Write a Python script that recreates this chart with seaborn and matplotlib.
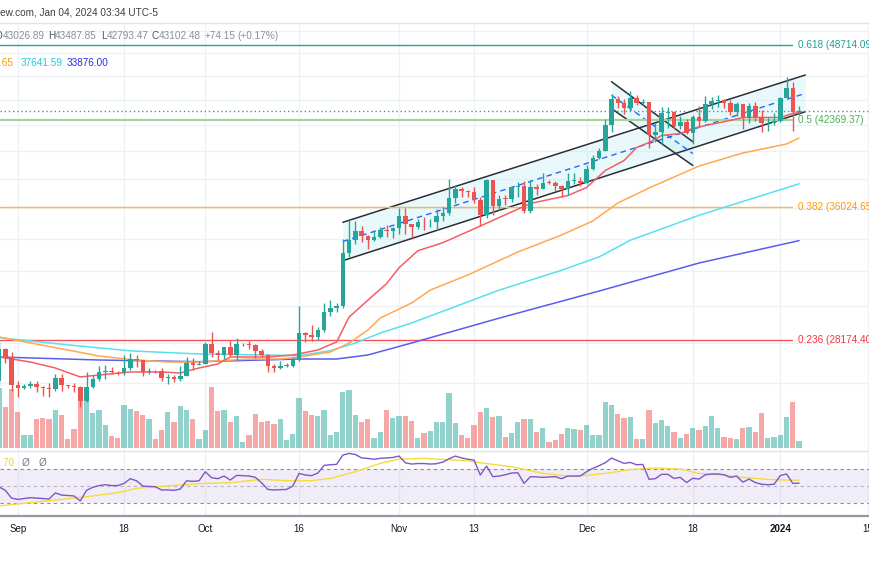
import numpy as np
import pandas as pd
import matplotlib
matplotlib.use("Agg")
import matplotlib.pyplot as plt
from matplotlib.lines import Line2D
from matplotlib.ticker import NullLocator
from matplotlib.transforms import blended_transform_factory
import seaborn as sns

# ---------------------------------------------------------------- data
start_date = "2023-08-29"   # first daily candle (partly visible at left edge)

opens = ([26100, 27727, 27298] +
         [25932, 25800, 25869, 25970, 25812, 25779, 25753, 26240, 25905, 25895,
          25832, 25162, 25840, 26228, 26539, 26608, 26568, 26534, 26754, 27211,
          27132, 26567, 26580, 26579, 26256, 26299, 26217, 26352, 27021, 26911] +
         [26967, 27983, 27530, 27429, 27799, 27415, 27946, 27968, 27935, 27583,
          27391, 26873, 26756, 26862, 26870, 27159, 28519, 28415, 28328, 28719,
          29682, 29918, 29993, 33086, 33901, 34502, 34156, 33909, 34090, 34538, 34502] +
         [34667, 35437, 34938, 34732, 35082, 35049, 35060, 35443, 35655, 36693,
          37313, 37138, 37054, 36502, 35537, 37880, 36154, 36596, 36585, 37386,
          37476, 35813, 37432, 37289, 37720, 37700, 37479, 37254, 37831, 37858] +
         [37712, 38688, 39476, 39978, 41980, 44080, 43746, 43293, 44166, 43725,
          43779, 41243, 41450, 42890, 43023, 41929, 42240, 41364, 42623, 42270,
          43652, 43869, 43997, 43740, 43016, 43613, 42520, 43442, 42627, 42099, 42156] +
         [42265, 44167, 44957, 43026.89])

highs = ([28142, 27760, 27570] +
         [26125, 25970, 26100, 26100, 25877, 26020, 26445, 26435, 25945, 26030,
          25880, 26567, 26400, 26860, 26888, 26777, 26619, 27409, 27488, 27387,
          27160, 26743, 26640, 26739, 26432, 26389, 26834, 27308, 27244, 27094] +
         [28065, 28580, 27665, 27830, 28120, 28295, 28022, 28100, 27988, 27735,
          27477, 26947, 27100, 26990, 27290, 30000, 28612, 28985, 28890, 30200,
          30350, 30200, 34000, 35198, 35133, 34832, 34238, 34479, 34750, 34856, 34719] +
         [35985, 35984, 34945, 35275, 35380, 35290, 35890, 36080, 37973, 37526,
          37400, 37227, 37420, 36760, 37980, 37930, 36880, 36845, 37500, 37750,
          37856, 37888, 37654, 38420, 37892, 37820, 37590, 38383, 38427, 38150] +
         [38960, 39676, 40200, 42420, 44490, 44300, 44040, 44700, 44370, 44035,
          43810, 42104, 43430, 43400, 43080, 42700, 42430, 42757, 43497, 44283,
          44230, 44400, 44015, 43946, 43800, 43650, 43683, 43804, 43124, 42612, 42899] +
         [44184, 45900, 45500, 43487.85])

lows = ([25914, 27025, 25655] +
        [25333, 25718, 25768, 25600, 25389, 25350, 25615, 25647, 25800, 25571,
         24901, 25134, 25770, 26126, 26224, 26474, 26399, 26386, 26677, 26800,
         26361, 26467, 26500, 26122, 25990, 26090, 26111, 26342, 26665, 26884] +
        [26954, 27282, 27160, 27215, 27365, 27175, 27858, 27690, 27260, 27300,
         26538, 26555, 26685, 26815, 26800, 27112, 28069, 28140, 28170, 28600,
         29470, 29675, 29884, 32880, 33690, 33762, 33339, 33874, 34046, 34076, 34070] +
        [34320, 34300, 34097, 34585, 34523, 34750, 34520, 35121, 35535, 36325,
         36709, 36744, 36342, 34800, 35360, 35500, 35880, 36180, 36390, 36712,
         35632, 35688, 36870, 37250, 37600, 37150, 36750, 36870, 37594, 37500] +
        [37600, 38631, 39389, 39978, 41415, 43335, 42821, 43082, 43584, 43565,
         40222, 40680, 40555, 41767, 41666, 41700, 41250, 40530, 41800, 42180,
         43270, 43400, 43300, 42750, 42720, 41650, 42167, 42318, 41424, 41520, 41965] +
        [42180, 44150, 41500, 42793.47])

closes = ([27727, 27298, 25932] +
          [25800, 25869, 25970, 25812, 25779, 25753, 26240, 25905, 25895, 25832,
           25162, 25840, 26228, 26539, 26608, 26568, 26534, 26754, 27211, 27132,
           26567, 26580, 26579, 26256, 26299, 26217, 26352, 27021, 26911, 26967] +
          [27983, 27530, 27429, 27799, 27415, 27946, 27968, 27935, 27583, 27391,
           26873, 26756, 26862, 26870, 27159, 28519, 28415, 28328, 28719, 29682,
           29918, 29993, 33086, 33901, 34502, 34156, 33909, 34090, 34538, 34502, 34667] +
          [35437, 34938, 34732, 35082, 35049, 35060, 35443, 35655, 36693, 37313,
           37138, 37054, 36502, 35537, 37880, 36154, 36596, 36585, 37386, 37476,
           35813, 37432, 37289, 37720, 37700, 37479, 37254, 37831, 37858, 37712] +
          [38688, 39476, 39978, 41980, 44080, 43746, 43293, 44166, 43725, 43779,
           41243, 41450, 42890, 43023, 41929, 42240, 41364, 42623, 42270, 43652,
           43869, 43997, 43740, 43016, 43613, 42520, 43442, 42627, 42099, 42156, 42265] +
          [44167, 44957, 43028.33, 43102.48])

# volume, thousands of BTC
volumes = ([60, 41.7, 59] +
           [36.7, 13.3, 13.3, 29.3, 30.3, 29.3, 38, 33.3, 9.7, 19.3,
            56, 55, 35, 38.3, 23, 12, 10, 43, 39.3, 37.7,
            33, 29, 9.7, 18.3, 36.3, 26.7, 42.7, 38, 29.3, 9] +
           [18.3, 61.6, 37.3, 38, 26.3, 32, 6.7, 13.3, 34, 26.7,
            27.3, 24.3, 29.3, 8.3, 14.3, 50.3, 37, 33.3, 32.3, 38.3,
            13.3, 16, 56, 58, 33, 26.7, 29, 10.3, 16.7, 38.3, 30.3] +
           [32.7, 32.3, 27.3, 10, 15, 17.3, 26.7, 26.7, 55, 25,
            13.3, 10.7, 23, 36.7, 40.7, 31.7, 32.7, 11, 15.3, 26.7,
            29.3, 29, 16.3, 20.3, 6, 8.3, 14, 20.7, 19, 18] +
           [23, 13, 13, 46.3, 43.3, 34.3, 30, 31.7, 9.3, 9,
            38.3, 25, 28, 22, 16.3, 10, 14.7, 20, 18.3, 22,
            32, 20.7, 11.3, 10.7, 9.7, 20.3, 21.3, 16, 35.3, 10.3, 11] +
           [13, 31.7, 46.7, 7])

rsi = ([49, 45, 36] +
       [34.5, 35.5, 36.5, 36, 35.5, 35, 42, 39.5, 39, 38.5,
        32.7, 45, 48.5, 50.5, 51.5, 50.5, 50.5, 53, 58.5, 56,
        50, 49.5, 49.2, 45.4, 45.5, 45, 46.5, 56, 55.4, 56] +
       [66.5, 59.6, 58.5, 61.5, 56.9, 62.3, 62, 61.5, 60, 53.8,
        46, 45.4, 45.8, 46, 50, 64.6, 62.7, 62, 65, 73.8,
        74.6, 75, 85.8, 87.7, 86.5, 82.5, 81.9, 81, 82, 82.5, 83] +
       [84.6, 76.9, 75.4, 76, 76, 75.4, 75.8, 77.7, 81.5, 84.6,
        82.5, 81, 80, 62.7, 73, 60.8, 61.5, 63, 65, 65.4,
        53, 60.8, 60.5, 60, 60.5, 60.8, 58.5, 61.5, 61.5, 61.5] +
       [66.5, 70.4, 73.5, 77, 82.3, 79.2, 76.2, 77.3, 74.6, 75,
        57.7, 58.5, 63.5, 63.5, 58.8, 60, 54, 59, 58, 63,
        63.8, 64, 63, 60, 61.5, 54.5, 58, 54, 52, 51.5, 52] +
       [62, 64, 53, 53.3])

# moving averages read at sample dates
ma20_dates = ["2023-08-29", "2023-09-03", "2023-09-07", "2023-09-11", "2023-09-14",
              "2023-09-19", "2023-09-24", "2023-09-27", "2023-09-30", "2023-10-03",
              "2023-10-05", "2023-10-11", "2023-10-15", "2023-10-19", "2023-10-22",
              "2023-10-24", "2023-10-27", "2023-10-30", "2023-11-01", "2023-11-04",
              "2023-11-08", "2023-11-12", "2023-11-17", "2023-11-22", "2023-11-28",
              "2023-12-01", "2023-12-04", "2023-12-07", "2023-12-09", "2023-12-11",
              "2023-12-13", "2023-12-16", "2023-12-18", "2023-12-20", "2023-12-24",
              "2023-12-26", "2023-12-29", "2024-01-01", "2024-01-03", "2024-01-04"]
ma20_vals = [27303, 27051, 26752, 26310, 26407, 26555, 26555, 26506, 26752, 26951,
             27303, 27303, 27404, 27659, 28072, 29397, 30332, 31279, 32219, 33248,
             33747, 34448, 35355, 36290, 36833, 37382, 38580, 39300, 40260, 40635,
             41165, 41318, 41706, 41939, 42330, 42566, 42566, 42566, 42882, 42962]

ma50_dates = ["2023-08-29", "2023-09-09", "2023-09-14", "2023-09-19", "2023-09-25",
              "2023-09-30", "2023-10-08", "2023-10-13", "2023-10-16", "2023-10-21",
              "2023-10-24", "2023-10-27", "2023-10-29", "2023-11-03", "2023-11-06",
              "2023-11-12", "2023-11-20", "2023-11-27", "2023-12-02", "2023-12-06",
              "2023-12-11", "2023-12-19", "2023-12-26", "2024-01-02", "2024-01-04"]
ma50_vals = [28335, 27659, 27353, 27176, 27051, 27051, 27201, 27201, 27303, 27557,
             28020, 28700, 29350, 30176, 30912, 31785, 33171, 34232, 35132, 36325,
             37348, 38903, 39852, 40523, 40976.65]

ma100_dates = ["2023-08-29", "2023-09-09", "2023-09-19", "2023-09-30", "2023-10-11",
               "2023-10-16", "2023-10-21", "2023-10-25", "2023-10-29", "2023-11-03",
               "2023-11-17", "2023-11-27", "2023-12-03", "2023-12-08", "2023-12-19",
               "2024-01-04"]
ma100_vals = [28300, 27925, 27615, 27456, 27404, 27369, 27623, 28020, 28545, 29079,
              30904, 32066, 32868, 33899, 35509, 37641.59]

ma200_dates = ["2023-08-29", "2023-09-14", "2023-09-30", "2023-10-16", "2023-10-22",
               "2023-10-27", "2023-11-03", "2023-11-17", "2023-12-03", "2023-12-19",
               "2024-01-04"]
ma200_vals = [27303, 27151, 27066, 27201, 27201, 27404, 28020, 29341, 30854, 32500,
              33876.00]

rsi_ma_dates = ["2023-08-29", "2023-09-07", "2023-09-12", "2023-09-17", "2023-09-20",
                "2023-09-27", "2023-10-01", "2023-10-05", "2023-10-10", "2023-10-14",
                "2023-10-18", "2023-10-21", "2023-10-25", "2023-10-29", "2023-11-01",
                "2023-11-05", "2023-11-08", "2023-11-12", "2023-11-14", "2023-11-19",
                "2023-11-24", "2023-11-28", "2023-12-01", "2023-12-05", "2023-12-08",
                "2023-12-12", "2023-12-16", "2023-12-19", "2023-12-23", "2023-12-26",
                "2023-12-30", "2024-01-02", "2024-01-04"]
rsi_ma_vals = [26.9, 33.8, 37.7, 42.3, 47.3, 51.2, 53.1, 53.8, 57.7, 56.2,
               56.2, 58.8, 66.5, 76.2, 81.2, 81.9, 80.8, 79.2, 76.9, 72.3,
               64.6, 61.5, 62.3, 65.4, 69.2, 70.8, 69.6, 64.6, 62.7, 60.0,
               57.7, 56.9, 56.7]

# Fibonacci retracement levels
fib_ratios = ["0.618", "0.5", "0.382", "0.236"]
fib_prices = [48714.09, 42369.37, 36024.65, 28174.40]

# drawn channels (anchor dates / prices)
asc_dates = ["2023-10-23", "2024-01-05"]
asc_upper = [35047, 46053]
asc_lower = [32640, 43024]
desc_dates = ["2023-12-05", "2023-12-18"]
desc_upper = [45484, 40696]
desc_lower = [43271, 38940]

tick_dates = ["2023-09-01", "2023-09-18", "2023-10-01", "2023-10-16", "2023-11-01",
              "2023-11-13", "2023-12-01", "2023-12-18", "2024-01-01", "2024-01-15"]
tick_labels = ["Sep", "18", "Oct", "16", "Nov", "13", "Dec", "18", "2024", "15"]

# ---------------------------------------------------------------- style
sns.set_theme(style="white")
plt.rcParams["font.family"] = ["Liberation Sans", "DejaVu Sans"]

UP, DOWN = "#26a69a", "#ef5350"
GRID = "#eef1f6"
W, H = 870, 570

fig = plt.figure(figsize=(W / 100, H / 100), dpi=100)
fig.patch.set_facecolor("white")


def pane(top, bottom):
    return [0, 1 - bottom / H, 1, (bottom - top) / H]


ax = fig.add_axes(pane(24, 451))
axv = ax.twinx()
axr = fig.add_axes(pane(451, 516), sharex=ax)
ax.set_zorder(3)
axv.set_zorder(2)
ax.patch.set_visible(False)

dates = pd.date_range(start_date, periods=len(closes), freq="D")
o = np.array(opens, float)
c = np.array(closes, float)
hi = np.array(highs, float)
lo = np.array(lows, float)
up = c >= o
col = np.where(up, UP, DOWN)

x_left = pd.Timestamp(start_date) + pd.Timedelta(hours=3.6)
x_right = pd.Timestamp("2024-01-15") + pd.Timedelta(hours=8.4)
tdates = pd.to_datetime(tick_dates)

# ---- volume overlay
vcol = [(38 / 255, 166 / 255, 154 / 255, 0.5) if u else (239 / 255, 83 / 255, 80 / 255, 0.5)
        for u in up]
for t in tdates:
    axv.axvline(t, color=GRID, lw=1, zorder=0)
axv.bar(dates, volumes, width=0.85, color=vcol, linewidth=0, zorder=2)
axv.set_ylim(-2.7, 424.3)

# ---- price pane
ax.set_yscale("log")
for p in range(26000, 52000, 2000):
    ax.axhline(p, color=GRID, lw=1, zorder=0)

# channels
ad = pd.to_datetime(asc_dates)
au, al = np.array(asc_upper, float), np.array(asc_lower, float)
ax.fill_between(ad, al, au, color="#b2ebf2", alpha=0.28, lw=0, zorder=1)
ax.plot(ad, au, color="#2a2e39", lw=1.1, zorder=2)
ax.plot(ad, al, color="#2a2e39", lw=1.1, zorder=2)
ax.plot(ad, np.sqrt(au * al), color="#2962ff", lw=1, ls=(0, (4, 3)), zorder=2)

dd = pd.to_datetime(desc_dates)
du, dl = np.array(desc_upper, float), np.array(desc_lower, float)
ax.fill_between(dd, dl, du, color="#b2ebf2", alpha=0.28, lw=0, zorder=1)
ax.plot(dd, du, color="#2a2e39", lw=1.1, zorder=2)
ax.plot(dd, dl, color="#2a2e39", lw=1.1, zorder=2)
ax.plot(dd, np.sqrt(du * dl), color="#2962ff", lw=1, ls=(0, (4, 3)), zorder=2)

# fib levels
fib_line_colors = ["#2aa395", "#a3d69b", "#ffb547", "#f6525b"]
fib_text_colors = ["#22a08f", "#4caf50", "#ff9800", "#f23645"]
fib_lw = [1.0, 1.6, 1.0, 1.0]
trans = blended_transform_factory(ax.transAxes, ax.transData)
for r, p, lc, tc, lw in zip(fib_ratios, fib_prices, fib_line_colors, fib_text_colors, fib_lw):
    ax.axhline(p, xmin=0, xmax=792 / W, color=lc, lw=lw, zorder=2)
    ax.text(798.5 / W, p, f"{r} ({p:.2f})", transform=trans, color=tc,
            fontsize=7.2, va="center", ha="left", zorder=7)

# last price line
ax.axhline(closes[-1], color="#26a69a", lw=1, ls=(0, (1, 2)), zorder=2)

# moving averages
for d, v, colr in [(ma200_dates, ma200_vals, "#5c5cf2"),
                   (ma100_dates, ma100_vals, "#58e0ec"),
                   (ma50_dates, ma50_vals, "#ffa94d"),
                   (ma20_dates, ma20_vals, "#f45f64")]:
    sns.lineplot(x=pd.to_datetime(d), y=v, ax=ax, color=colr, linewidth=1.1,
                 zorder=3, legend=False)

# candles
ax.vlines(dates, lo, hi, colors=col, lw=1.0, zorder=4)
bot = np.minimum(o, c)
top = np.maximum(np.maximum(o, c), bot * 1.0012)
ax.bar(dates, top - bot, bottom=bot, width=0.72, color=col, linewidth=0, zorder=5)

ax.set_ylim(22936, 50620)
ax.yaxis.set_minor_locator(NullLocator())

# ---- RSI pane
for t in tdates:
    axr.axvline(t, color=GRID, lw=1, zorder=0)
axr.axhspan(30, 70, color=(126 / 255, 87 / 255, 194 / 255, 0.10), lw=0, zorder=0)
axr.axhline(70, color="#8a8e99", lw=0.8, ls=(0, (3, 3)), zorder=1)
axr.axhline(50, color="#b3b6bf", lw=0.8, ls=(0, (3, 3)), zorder=1)
axr.axhline(30, color="#8a8e99", lw=0.8, ls=(0, (3, 3)), zorder=1)
sns.lineplot(x=dates, y=rsi, ax=axr, color="#7e57c2", linewidth=1.0, zorder=3, legend=False)
sns.lineplot(x=pd.to_datetime(rsi_ma_dates), y=rsi_ma_vals, ax=axr, color="#f5dc3c",
             linewidth=1.0, zorder=2, legend=False)
axr.set_ylim(15.3, 90.5)

# ---- axes cosmetics
for a in (ax, axv, axr):
    a.set_xlabel("")
    a.set_ylabel("")
    a.tick_params(left=False, right=False, labelleft=False, labelright=False)
for a in (ax, axv):
    for s in a.spines.values():
        s.set_visible(False)
    a.tick_params(bottom=False, labelbottom=False)
for s in ("left", "right"):
    axr.spines[s].set_visible(False)
axr.spines["top"].set_color("#e0e3eb")
axr.spines["top"].set_linewidth(1)
axr.spines["bottom"].set_color("#9598a1")
axr.spines["bottom"].set_linewidth(1.6)

axr.set_xticks(tdates)
axr.set_xticklabels(tick_labels)
axr.tick_params(axis="x", length=0, pad=5.5, labelsize=7, labelcolor="#131722")
for lbl in axr.get_xticklabels():
    if lbl.get_text() == "2024":
        lbl.set_fontweight("bold")
axr.set_xlim(x_left, x_right)

# top border of the chart pane
fig.add_artist(Line2D([0, 1], [1 - 22.5 / H] * 2, color="#e0e3eb", lw=1))


# ---- legend texts
def ftxt(xp, yp, s, color, ha="left", weight="normal", size=7.2):
    fig.text(xp / W, 1 - yp / H, s, color=color, ha=ha, va="center",
             fontsize=size, fontweight=weight)


ftxt(158, 13, "TradingView.com, Jan 04, 2024 03:34 UTC-5", "#3b3e47", ha="right")

lbl_c, val_c = "#50535e", "#8c8f99"
ftxt(2.7, 36, "O", lbl_c, ha="right")
ftxt(2.7, 36, f"{opens[-1]:.2f}", val_c)
ftxt(47.8, 36, "H", lbl_c)
ftxt(55.0, 36, f"{highs[-1]:.2f}", val_c)
ftxt(101.0, 36, "L", lbl_c)
ftxt(107.0, 36, f"{lows[-1]:.2f}", val_c)
ftxt(152.0, 36, "C", lbl_c)
ftxt(159.0, 36, f"{closes[-1]:.2f}", val_c)
chg = closes[-1] - closes[-2]
ftxt(204.5, 36, f"+{chg:.2f}", val_c)
ftxt(237.3, 36, f"(+{chg / closes[-2] * 100:.2f}%)", val_c)

ftxt(13.5, 63, f"{ma50_vals[-1]:.2f}", "#ff9800", ha="right")
ftxt(20.7, 63, f"{ma100_vals[-1]:.2f}", "#1ccfe0")
ftxt(66.7, 63, f"{ma200_vals[-1]:.2f}", "#2b2bf0")

ftxt(15, 463, f"{rsi_ma_vals[-1]:.2f}", "#f2d335", ha="right")
ftxt(22, 463, "\u00d8", "#787b86")
ftxt(39, 463, "\u00d8", "#787b86")

fig.savefig("out.png", dpi=100)
